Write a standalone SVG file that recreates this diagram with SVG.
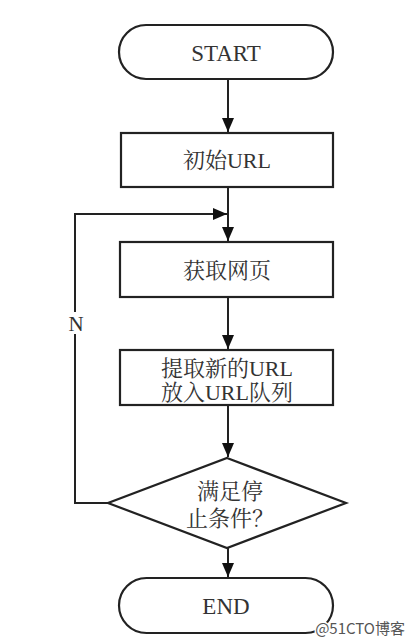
<svg xmlns="http://www.w3.org/2000/svg" width="414" height="644" viewBox="0 0 414 644">
<style>
.s{fill:#fff;stroke:#222;stroke-width:2.2}
.t{font-family:"Liberation Serif","Noto Serif CJK SC","Noto Sans CJK SC",serif;fill:#333;text-anchor:middle}
.c{fill:none;stroke:#222;stroke-width:2}
</style>
<defs>
<marker id="a" viewBox="0 0 14 12" refX="14" refY="6" markerWidth="14" markerHeight="12" markerUnits="userSpaceOnUse" orient="auto"><path d="M0,0L14,6L0,12z" fill="#111"/></marker>
</defs>
<rect width="414" height="644" fill="#fff"/>
<g id="connectors">
<path class="c" d="M228,79V132" marker-end="url(#a)"/>
<path class="c" d="M228,187V241" marker-end="url(#a)"/>
<path class="c" d="M228,297V349" marker-end="url(#a)"/>
<path class="c" d="M228,405V457" marker-end="url(#a)"/>
<path class="c" d="M228,548V577" marker-end="url(#a)"/>
<path class="c" d="M108,503H75V214H227" marker-end="url(#a)"/>
<rect x="67" y="312" width="17" height="22" fill="#fff"/>
<text class="t" x="76" y="331" font-size="21">N</text>
</g>
<g id="start">
<rect class="s" x="119" y="25" width="214" height="54" rx="27"/>
<text class="t" x="226" y="61" font-size="23">START</text>
</g>
<g id="init">
<rect class="s" x="121" y="133" width="212" height="54"/>
<text class="t" x="227" y="168" font-size="22">初始URL</text>
</g>
<g id="fetch">
<rect class="s" x="120" y="242" width="213" height="55"/>
<text class="t" x="227" y="278" font-size="22">获取网页</text>
</g>
<g id="extract">
<rect class="s" x="120" y="350" width="213" height="55"/>
<text class="t" x="227" y="376" font-size="22">提取新的URL</text>
<text class="t" x="227" y="400" font-size="22">放入URL队列</text>
</g>
<g id="decision">
<path class="s" d="M227,458L346,503L227,548L108,503Z"/>
<text class="t" x="230" y="499" font-size="22">满足停</text>
<text class="t" x="230" y="526" font-size="22">止条件？</text>
</g>
<g id="end">
<rect class="s" x="119" y="578" width="214" height="55" rx="27.5"/>
<text class="t" x="226" y="614" font-size="23">END</text>
</g>
<text x="405" y="634" font-family="'Noto Sans CJK SC',sans-serif" font-size="15" fill="#555" text-anchor="end" stroke="#fff" stroke-width="3" paint-order="stroke">@51CTO博客</text>
</svg>
